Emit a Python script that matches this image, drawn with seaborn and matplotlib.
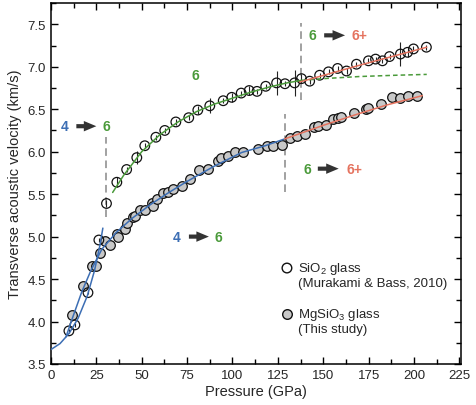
import numpy as np
import pandas as pd
import matplotlib
matplotlib.use("Agg")
import matplotlib.pyplot as plt
from matplotlib.ticker import MultipleLocator
import seaborn as sns

sio2_p = [9.9, 13.2, 20.4, 26.4, 30.6, 36.3, 41.7, 47.3, 51.7, 57.8, 62.7, 68.8,
          75.9, 80.9, 87.5, 94.9, 99.6, 104.8, 109.2, 113.5, 118.3, 124.3, 128.9,
          134.2, 138.0, 142.5, 148.0, 152.9, 157.9, 162.8, 168.3, 174.9, 178.8,
          182.6, 186.5, 192.5, 196.4, 199.7, 206.8]
sio2_v = [3.89, 3.96, 4.34, 4.96, 5.39, 5.64, 5.79, 5.93, 6.07, 6.17, 6.25, 6.35,
          6.40, 6.49, 6.54, 6.60, 6.64, 6.69, 6.72, 6.71, 6.77, 6.81, 6.80,
          6.81, 6.86, 6.83, 6.90, 6.94, 6.98, 6.95, 7.03, 7.07, 7.09,
          7.07, 7.12, 7.15, 7.17, 7.21, 7.23]
sio2_err = [0.02, 0.02, 0.02, 0.02, 0.04, 0.06, 0.03, 0.08, 0.03, 0.03, 0.03, 0.03,
            0.03, 0.05, 0.09, 0.03, 0.05, 0.03, 0.05, 0.03, 0.03, 0.14, 0.03,
            0.15, 0.05, 0.03, 0.03, 0.03, 0.03, 0.03, 0.03, 0.03, 0.03,
            0.03, 0.03, 0.14, 0.05, 0.03, 0.03]

mgsio3_p = [11.6, 17.6, 22.5, 24.8, 27.0, 29.7, 32.5, 36.3, 36.9, 40.7, 41.8, 45.1,
            46.2, 49.0, 51.7, 55.5, 56.1, 58.3, 61.6, 64.4, 67.1, 72.0, 76.5, 81.4,
            86.4, 91.9, 93.5, 97.4, 101.2, 105.6, 114.0, 118.8, 122.4, 127.0, 131.5,
            135.3, 139.7, 144.7, 146.9, 151.3, 155.1, 157.9, 160.0, 167.2, 173.8,
            174.4, 182.0, 187.6, 192.5, 196.9, 201.9]
mgsio3_v = [4.08, 4.42, 4.65, 4.65, 4.81, 4.95, 4.90, 5.03, 5.00, 5.09, 5.16, 5.23,
            5.24, 5.31, 5.31, 5.39, 5.36, 5.44, 5.51, 5.52, 5.56, 5.59, 5.68, 5.79,
            5.80, 5.89, 5.92, 5.95, 6.00, 6.00, 6.03, 6.07, 6.07, 6.08, 6.16,
            6.19, 6.21, 6.29, 6.30, 6.32, 6.38, 6.40, 6.41, 6.45, 6.50,
            6.51, 6.56, 6.64, 6.63, 6.65, 6.66]

# fit curves (nodes)
sio2_fit4_p = [0, 5, 10, 15, 20, 24, 27, 28.6]
sio2_fit4_v = [3.67, 3.74, 3.86, 4.04, 4.30, 4.60, 4.90, 5.10]
sio2_fit6_p = [34, 40, 50, 60, 70, 80, 90, 100, 110, 120, 130, 138]
sio2_fit6_v = [5.52, 5.72, 6.00, 6.20, 6.35, 6.47, 6.56, 6.63, 6.70, 6.76, 6.81, 6.84]
sio2_ext_p = [138, 150, 170, 190, 207]
sio2_ext_v = [6.84, 6.86, 6.885, 6.90, 6.91]
sio2_fit6p_p = [137, 172, 207]
sio2_fit6p_v = [6.82, 7.03, 7.23]

mg_fit_p = [8.3, 12, 17, 22, 28, 36, 45, 55, 65, 75, 90, 105, 118, 128.7]
mg_fit_v = [3.82, 4.05, 4.35, 4.60, 4.85, 5.05, 5.22, 5.38, 5.52, 5.65, 5.83, 5.99, 6.07, 6.15]
mg_fit6p_p = [128.7, 150, 167, 185, 204.6]
mg_fit6p_v = [6.15, 6.31, 6.43, 6.55, 6.66]

# transition markers (pressure, v_low, v_high)
trans_p = [30.2, 138, 129]
trans_lo = [5.23, 6.61, 5.52]
trans_hi = [6.17, 7.51, 6.44]

BLUE = "#3c6eb4"
GREEN = "#4a9a3a"
RED = "#e5735f"
DARK = "#333333"
MS = 48

sns.set_style("ticks")
plt.rcParams["font.family"] = ["Liberation Sans", "DejaVu Sans"]
plt.rcParams["mathtext.fontset"] = "custom"
plt.rcParams["mathtext.rm"] = "Liberation Sans"

fig = plt.figure(figsize=(4.76, 4.06), dpi=100)
ax = fig.add_axes([0.107, 0.101, 0.862, 0.889])

# vertical dashed lines
for p, lo, hi in zip(trans_p, trans_lo, trans_hi):
    ax.plot([p, p], [lo, hi], color="#888888", lw=1.1, ls=(0, (5, 3)), zorder=1)

# error bars
ax.errorbar(sio2_p, sio2_v, yerr=sio2_err, fmt="none", ecolor="#222222",
            elinewidth=0.8, capsize=0, zorder=3)

# data points
sio2 = pd.DataFrame({"p": sio2_p, "v": sio2_v})
mg = pd.DataFrame({"p": mgsio3_p, "v": mgsio3_v})
sns.scatterplot(data=mg, x="p", y="v", ax=ax, s=MS, color="#c8c8c8",
                edgecolor="#111111", linewidth=0.9, zorder=4)
sns.scatterplot(data=sio2, x="p", y="v", ax=ax, s=MS, facecolor="none",
                edgecolor="#111111", linewidth=0.9, zorder=4)

def fit_line(px, pv, color, ls="-"):
    df = pd.DataFrame({"p": px, "v": pv})
    sns.lineplot(data=df, x="p", y="v", ax=ax, color=color, lw=1.1,
                 linestyle=ls, sort=False, estimator=None, zorder=6)

fit_line(sio2_fit4_p, sio2_fit4_v, BLUE)
fit_line(mg_fit_p, mg_fit_v, BLUE)
fit_line(sio2_ext_p, sio2_ext_v, GREEN, ls=(0, (3, 2)))
fit_line(sio2_fit6_p, sio2_fit6_v, GREEN)
fit_line(mg_fit6p_p, mg_fit6p_v, RED)
fit_line(sio2_fit6p_p, sio2_fit6p_v, RED)

# coordination annotations
def arrow_label(x1, t1, c1, x2, t2, c2, y, a0, a1):
    ax.text(x1, y, t1, color=c1, fontsize=10, fontweight="bold", ha="center", va="center")
    ax.text(x2, y, t2, color=c2, fontsize=10, fontweight="bold", ha="center", va="center")
    ax.annotate("", xy=(a1, y), xytext=(a0, y),
                arrowprops=dict(arrowstyle="simple,head_length=0.9,head_width=0.75,tail_width=0.3",
                                color=DARK, lw=0, shrinkA=0, shrinkB=0))

arrow_label(7.7, "4", BLUE, 30.3, "6", GREEN, 6.30, 14, 25)
arrow_label(69, "4", BLUE, 92, "6", GREEN, 5.00, 76, 87)
arrow_label(144, "6", GREEN, 170, "6+", RED, 7.37, 150.5, 162)
arrow_label(141, "6", GREEN, 167, "6+", RED, 5.80, 147, 158.5)
ax.text(79.8, 6.90, "6", color=GREEN, fontsize=10, fontweight="bold", ha="center", va="center")

# legend
ax.scatter([130], [4.63], s=MS, facecolor="none", edgecolor="#111111", linewidth=1.0)
ax.scatter([130], [4.09], s=MS, color="#c8c8c8", edgecolor="#111111", linewidth=1.0)
ax.text(136, 4.63, "SiO$_2$ glass", fontsize=9.5, va="center")
ax.text(136, 4.45, "(Murakami & Bass, 2010)", fontsize=9.5, va="center")
ax.text(136, 4.09, "MgSiO$_3$ glass", fontsize=9.5, va="center")
ax.text(136, 3.91, "(This study)", fontsize=9.5, va="center")

ax.set_xlim(0, 226)
ax.set_ylim(3.5, 7.75)
ax.xaxis.set_major_locator(MultipleLocator(25))
ax.xaxis.set_minor_locator(MultipleLocator(12.5))
ax.yaxis.set_major_locator(MultipleLocator(0.5))
ax.yaxis.set_minor_locator(MultipleLocator(0.25))
ax.yaxis.set_major_formatter(matplotlib.ticker.FormatStrFormatter("%.1f"))
ax.tick_params(which="both", direction="in", top=True, right=True, labelsize=9.5,
               width=1.0, color="black")
ax.tick_params(which="major", length=5)
ax.tick_params(which="minor", length=3.5)
for s in ax.spines.values():
    s.set_linewidth(1.1)
    s.set_color("black")

ax.set_xlabel("Pressure (GPa)", fontsize=10.5, labelpad=2)
ax.set_ylabel("Transverse acoustic velocity (km/s)", fontsize=10.5, labelpad=4)

fig.savefig("out.png", dpi=100)
